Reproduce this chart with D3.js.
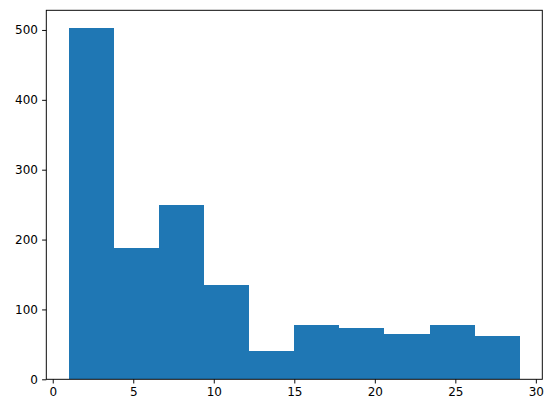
<!DOCTYPE html>
<html><head><meta charset="utf-8">
<script src="https://cdn.jsdelivr.net/npm/d3@7"></script>
<style>body{margin:0;background:#fff}svg{display:block}</style>
</head><body>
<script>
const binEdges = [1, 3.8, 6.6, 9.4, 12.2, 15, 17.8, 20.6, 23.4, 26.2, 29];
const counts = [503, 188, 249, 135, 40, 78, 73, 65, 78, 62];
const xTicks = [0, 5, 10, 15, 20, 25, 30];
const yTicks = [0, 100, 200, 300, 400, 500];

const W = 554, H = 413;
const m = {left: 46.3, right: W - 542.3, top: 10.3, bottom: H - 379.3};
const svg = d3.select("body").append("svg").attr("width", W).attr("height", H);

const x = d3.scaleLinear().domain([-0.4, 30.4]).range([m.left, W - m.right]);
const y = d3.scaleLinear().domain([0, 503 * 1.05]).range([H - m.bottom, m.top]);

const bins = counts.map((c, i) => ({x0: binEdges[i], x1: binEdges[i + 1], c}));
svg.append("g").selectAll("rect").data(bins).join("rect")
  .attr("x", d => x(d.x0)).attr("width", d => x(d.x1) - x(d.x0))
  .attr("y", d => y(d.c)).attr("height", d => y(0) - y(d.c))
  .attr("fill", "#1f77b4").attr("shape-rendering", "crispEdges");

const font = "DejaVu Sans";
const xa = svg.append("g").attr("transform", `translate(0,${H - m.bottom})`)
  .call(d3.axisBottom(x).tickValues(xTicks).tickSize(4.2).tickPadding(4.2).tickFormat(d3.format("d")));
const ya = svg.append("g").attr("transform", `translate(${m.left},0)`)
  .call(d3.axisLeft(y).tickValues(yTicks).tickSize(4.2).tickPadding(4.2).tickFormat(d3.format("d")));
[xa, ya].forEach(a => {
  a.select(".domain").remove();
  a.selectAll("line").attr("stroke", "#000").attr("stroke-width", 0.96);
  a.selectAll("text").attr("font-family", font).attr("font-size", 12).attr("fill", "#000");
});

svg.append("rect").attr("x", m.left).attr("y", m.top)
  .attr("width", W - m.right - m.left).attr("height", H - m.bottom - m.top)
  .attr("fill", "none").attr("stroke", "#000").attr("stroke-width", 0.96);
</script>
</body></html>
